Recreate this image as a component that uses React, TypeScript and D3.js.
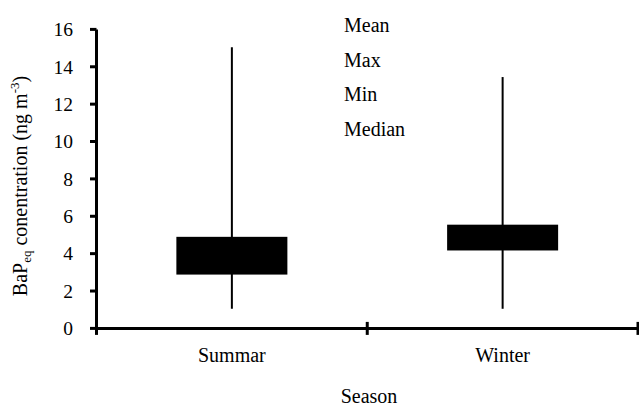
import React from "react";
import * as d3 from "d3";

const seasons = ["Summar", "Winter"];
const maxVals = [15.05, 13.45];
const minVals = [1.05, 1.05];
const q3Vals = [4.9, 5.55];
const q1Vals = [2.88, 4.17];
const yTicks = [0, 2, 4, 6, 8, 10, 12, 14, 16];
const legendLabels = ["Mean", "Max", "Min", "Median"];

const W = 639;
const H = 405;
const FONT = '"Liberation Serif", "DejaVu Serif", serif';
const ts: React.CSSProperties = { fontFamily: FONT };

export default function App() {
  const x = d3.scaleBand<string>().domain(seasons).range([96.5, 638]).padding(0);
  const y = d3.scaleLinear().domain([0, 16]).range([328.4, 29.4]);
  const boxW = x.bandwidth() * 0.41;
  const y0 = y(0);
  const boundaries = [x.range()[0], ...seasons.map((s) => (x(s) as number) + x.bandwidth())];

  return (
    <svg
      width={W}
      height={H}
      style={{ position: "absolute", left: 0, top: 0, background: "#fff", fontFamily: FONT }}
    >
      <rect x={0} y={0} width={W} height={H} fill="#fff" />
      {seasons.map((s, i) => {
        const cx = (x(s) as number) + x.bandwidth() / 2;
        return (
          <g key={s}>
            <line x1={cx} x2={cx} y1={y(minVals[i])} y2={y(maxVals[i])} stroke="#000" strokeWidth={2} />
            <rect
              x={cx - boxW / 2}
              y={y(q3Vals[i])}
              width={boxW}
              height={y(q1Vals[i]) - y(q3Vals[i])}
              fill="#000"
            />
          </g>
        );
      })}
      <line x1={96.5} x2={96.5} y1={y(16)} y2={y0} stroke="#000" strokeWidth={3} />
      {yTicks.map((t) => (
        <g key={t}>
          <line x1={90} x2={96.5} y1={y(t)} y2={y(t)} stroke="#000" strokeWidth={3} />
          <text x={73} y={y(t)} dy="0.35em" textAnchor="end" fontSize={19.5} fill="#000" style={ts}>
            {t}
          </text>
        </g>
      ))}
      <line x1={96.5} x2={638} y1={y0} y2={y0} stroke="#000" strokeWidth={3} />
      {boundaries.map((b, i) => (
        <line key={i} x1={b} x2={b} y1={y0 - 6.5} y2={y0 + 6.5} stroke="#000" strokeWidth={3} />
      ))}
      {seasons.map((s) => (
        <text
          key={s}
          x={(x(s) as number) + x.bandwidth() / 2}
          y={361.5}
          textAnchor="middle"
          fontSize={20}
          fill="#000"
          style={ts}
        >
          {s}
        </text>
      ))}
      <text x={369} y={402.5} textAnchor="middle" fontSize={20} fill="#000" style={ts}>
        Season
      </text>
      <text
        transform={`translate(27,186) rotate(-90)`}
        textAnchor="middle"
        fontSize={20}
        fill="#000"
        style={ts}
      >
        BaP
        <tspan fontSize={13} dy={4}>eq</tspan>
        <tspan dy={-4}> conentration (ng m</tspan>
        <tspan fontSize={13} dy={-8}>-3</tspan>
        <tspan dy={8}>)</tspan>
      </text>
      {legendLabels.map((l, i) => (
        <text key={l} x={344} y={31.7 + i * 34.8} fontSize={20} fill="#000" style={ts}>
          {l}
        </text>
      ))}
    </svg>
  );
}
